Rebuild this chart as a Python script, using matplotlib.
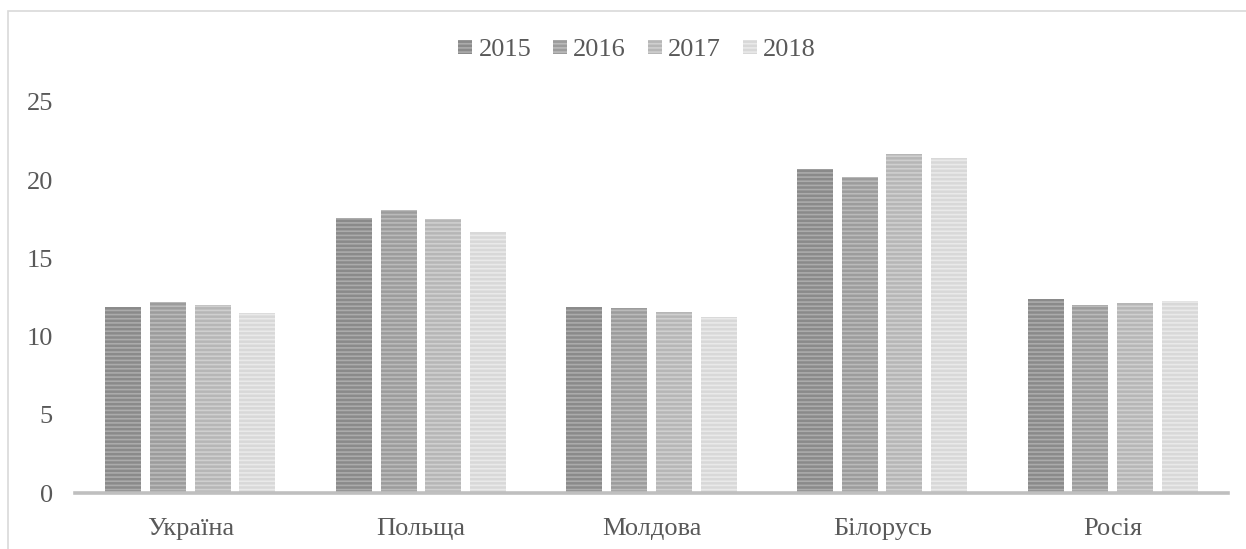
import numpy as np
import matplotlib
matplotlib.use('Agg')
import matplotlib.pyplot as plt
from matplotlib.patches import Rectangle

# Дані
countries = ['Україна', 'Польща', 'Молдова', 'Білорусь', 'Росія']
years = ['2015', '2016', '2017', '2018']
v2015 = [11.9, 17.6, 11.9, 20.7, 12.4]
v2016 = [12.2, 18.1, 11.85, 20.2, 12.0]
v2017 = [12.05, 17.5, 11.55, 21.65, 12.15]
v2018 = [11.5, 16.7, 11.25, 21.45, 12.3]
series = [v2015, v2016, v2017, v2018]

face_colors = ['#8a8a8a', '#9c9c9c', '#b6b6b6', '#d8d8d8']
hatch_colors = ['#ababab', '#bababa', '#cfcfcf', '#e9e9e9']
text_color = '#595959'

plt.rcParams['font.family'] = ['Liberation Serif', 'DejaVu Serif']
plt.rcParams['hatch.linewidth'] = 1.2

fig = plt.figure(figsize=(12.46, 5.49), dpi=100)
ax = fig.add_axes([75 / 1246, 56 / 549, 1153 / 1246, 391 / 549])

x = np.arange(len(countries))
width = 0.156
step = 0.194
for i, vals in enumerate(series):
    offset = (i - 1.5) * step
    ax.bar(x + offset, vals, width, color=face_colors[i], edgecolor=hatch_colors[i],
           linewidth=0, hatch='----', label=years[i])

ax.set_xlim(-0.5, len(countries) - 0.5)
ax.set_ylim(0, 25)
ax.set_yticks([0, 5, 10, 15, 20, 25])
ax.set_xticks(x)
ax.set_xticklabels(countries)
ax.tick_params(axis='both', length=0, labelsize=19, labelcolor=text_color)
ax.tick_params(axis='y', pad=16)
ax.tick_params(axis='x', pad=18)

for side in ['top', 'right', 'left']:
    ax.spines[side].set_visible(False)
ax.spines['bottom'].set_color('#bfbfbf')
ax.spines['bottom'].set_linewidth(2.6)

# Легенда
handles, labels = ax.get_legend_handles_labels()
leg = fig.legend(handles, labels, loc='center', bbox_to_anchor=(637 / 1246, 1 - 50 / 549),
                 ncol=4, frameon=False, fontsize=19, handlelength=0.53, handleheight=0.45,
                 handletextpad=0.23, columnspacing=0.83)
for t in leg.get_texts():
    t.set_color(text_color)

# Рамка діаграми
fig.patches.append(Rectangle((8 / 1246, -0.1), 1.2, 1 - 11 / 549 + 0.1, fill=False,
                             edgecolor='#d9d9d9', linewidth=1.2, transform=fig.transFigure))

fig.savefig('out.png', dpi=100)
